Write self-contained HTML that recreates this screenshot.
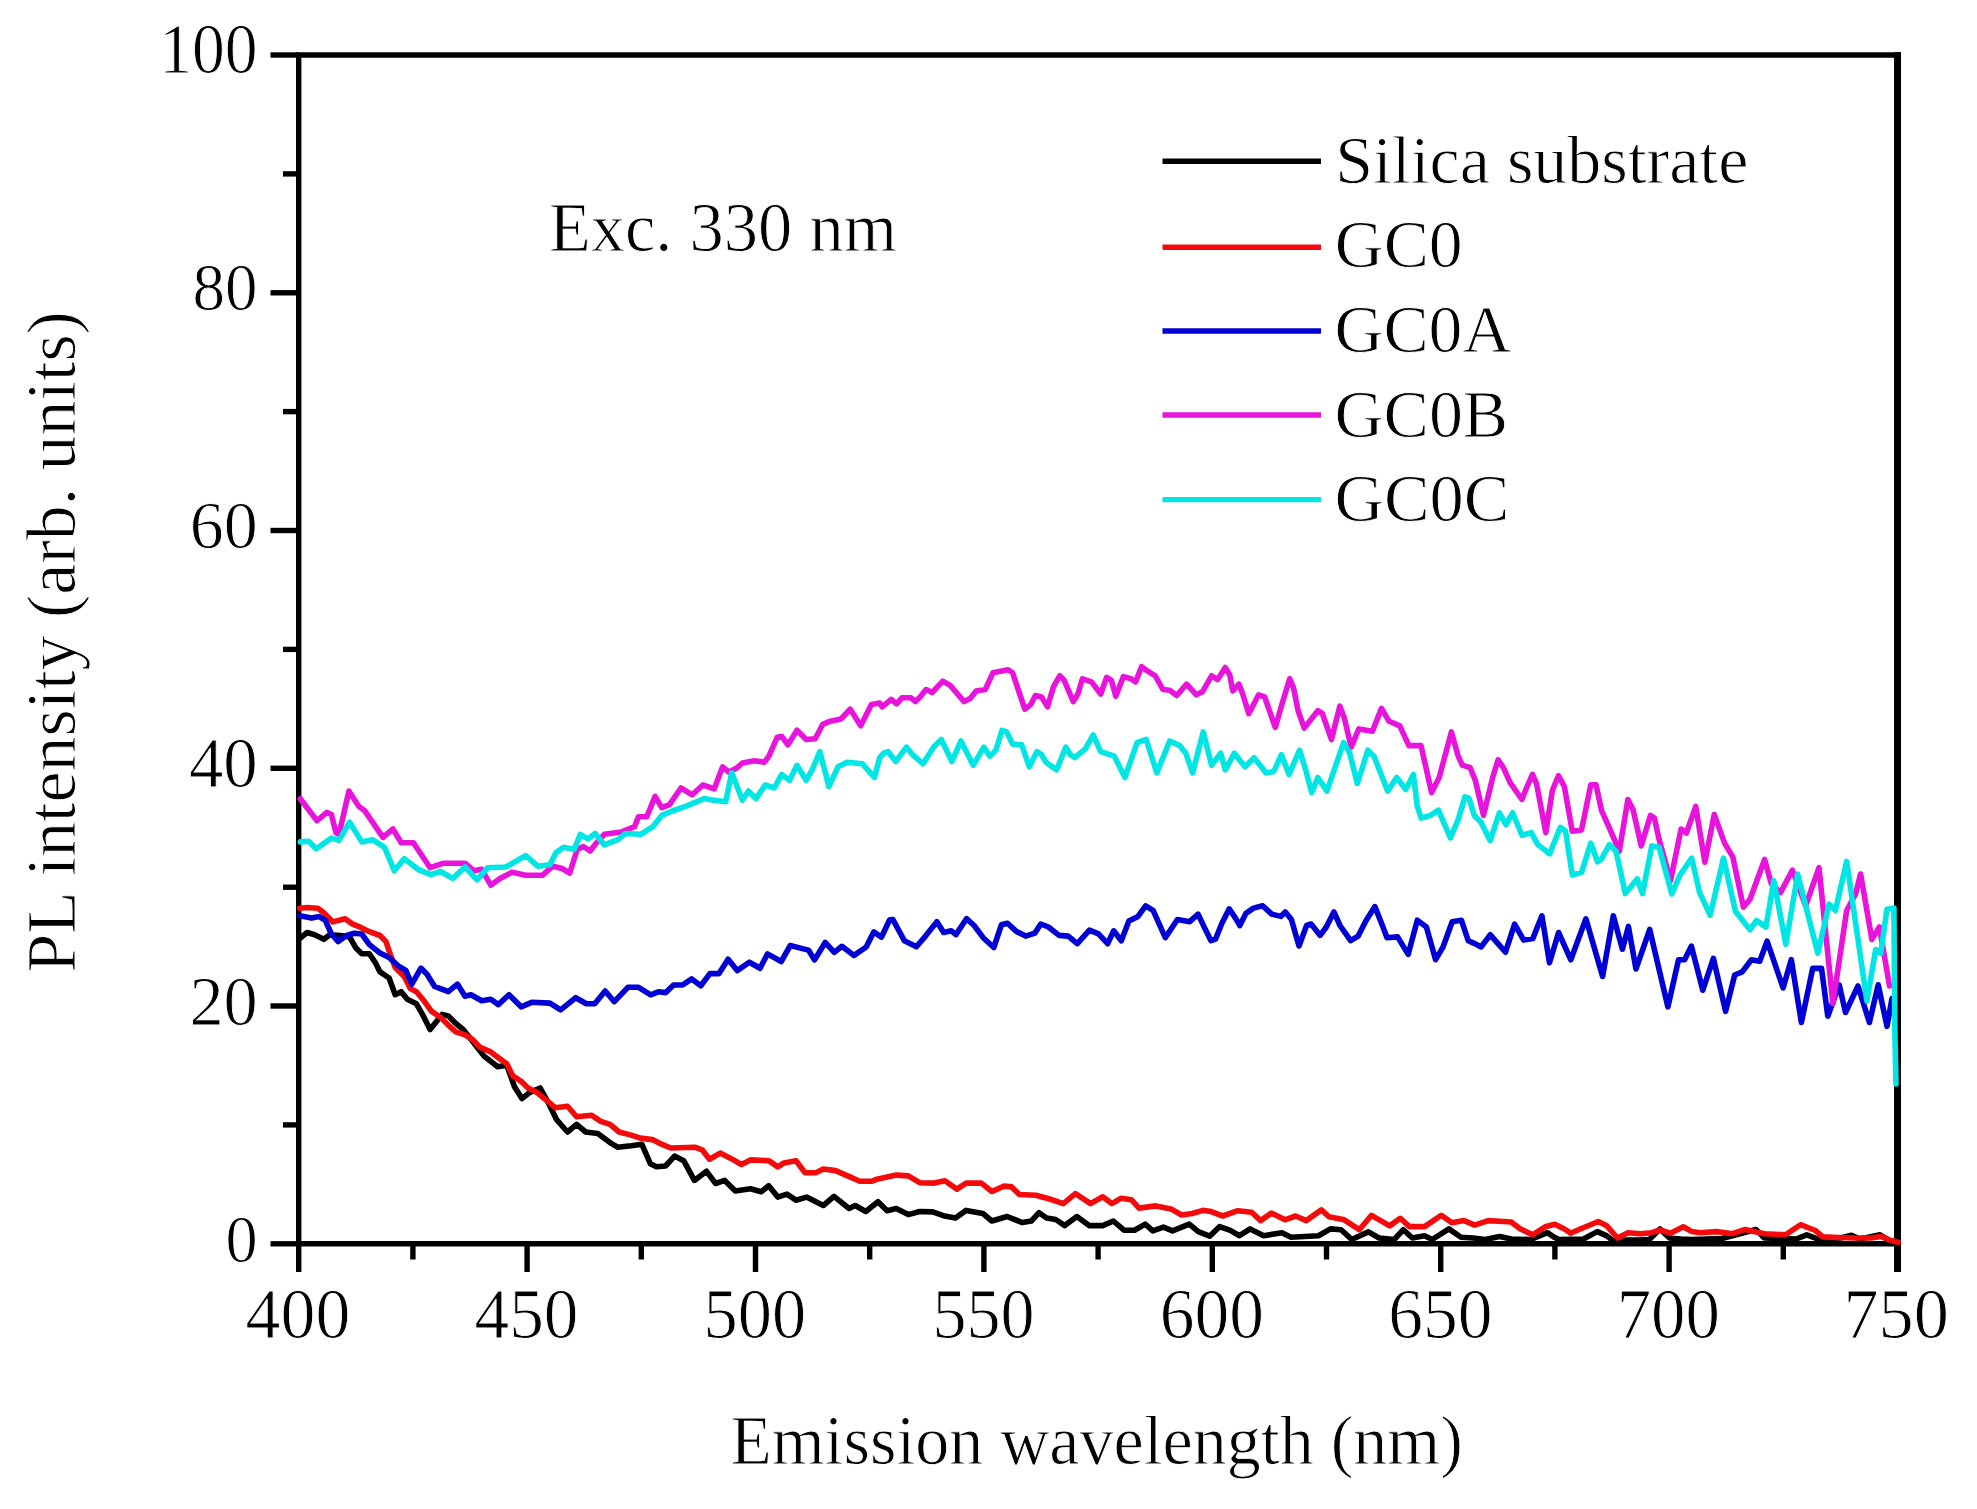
<!DOCTYPE html>
<html><head><meta charset="utf-8"><title>PL spectra</title>
<style>html,body{margin:0;padding:0;background:#fff;}svg{display:block;}</style></head>
<body><svg width="1977" height="1509" viewBox="0 0 1977 1509">
<rect width="1977" height="1509" fill="#fff"/>
<g stroke="#000" stroke-width="5.4" fill="none" stroke-linecap="butt">
<path d="M1897.5,1243.8 H298.7 V55.0 H1901.0" stroke-linejoin="miter"/>
<path d="M1897.5,52.2 V1272.0" stroke-width="7"/>
<path d="M270.5,1243.8 H298.7"/>
<path d="M283.0,1124.9 H298.7"/>
<path d="M270.5,1006.0 H298.7"/>
<path d="M283.0,887.2 H298.7"/>
<path d="M270.5,768.3 H298.7"/>
<path d="M283.0,649.4 H298.7"/>
<path d="M270.5,530.5 H298.7"/>
<path d="M283.0,411.6 H298.7"/>
<path d="M270.5,292.8 H298.7"/>
<path d="M283.0,173.9 H298.7"/>
<path d="M270.5,55.0 H298.7"/>
<path d="M298.7,1243.8 V1272.0"/>
<path d="M412.9,1243.8 V1259.5"/>
<path d="M527.1,1243.8 V1272.0"/>
<path d="M641.3,1243.8 V1259.5"/>
<path d="M755.5,1243.8 V1272.0"/>
<path d="M869.7,1243.8 V1259.5"/>
<path d="M983.9,1243.8 V1272.0"/>
<path d="M1098.1,1243.8 V1259.5"/>
<path d="M1212.3,1243.8 V1272.0"/>
<path d="M1326.5,1243.8 V1259.5"/>
<path d="M1440.7,1243.8 V1272.0"/>
<path d="M1554.9,1243.8 V1259.5"/>
<path d="M1669.1,1243.8 V1272.0"/>
<path d="M1783.3,1243.8 V1259.5"/>
</g>
<path d="M299.6,938.6 L307.1,932.5 L314.7,934.8 L323.8,939.3 L329.9,934.8 L340.5,935.5 L349.6,937.0 L355.7,947.7 L361.8,953.7 L369.4,953.7 L375.4,962.8 L380.0,971.9 L389.1,978.0 L395.2,994.7 L401.2,991.7 L407.3,999.3 L416.4,1003.8 L422.5,1014.4 L430.1,1029.6 L436.1,1022.0 L442.2,1014.4 L448.3,1015.9 L455.8,1023.5 L463.4,1029.6 L484.0,1056.1 L497.7,1066.8 L506.8,1065.3 L514.4,1086.5 L521.9,1098.6 L529.5,1092.6 L540.2,1088.0 L549.3,1104.7 L556.8,1119.9 L567.5,1132.0 L576.6,1124.4 L585.7,1132.0 L597.8,1133.5 L610.0,1142.6 L617.5,1147.2 L631.2,1145.7 L641.8,1144.2 L650.3,1163.7 L656.4,1166.8 L665.5,1166.0 L674.6,1156.1 L683.7,1160.7 L694.4,1180.4 L706.5,1171.3 L715.6,1183.5 L724.7,1180.4 L735.3,1191.0 L750.5,1188.8 L761.1,1191.8 L768.7,1185.7 L777.8,1197.1 L786.9,1194.1 L796.0,1200.2 L806.6,1197.1 L823.3,1205.5 L834.0,1196.4 L849.1,1208.5 L855.2,1205.5 L865.8,1211.5 L878.0,1201.7 L887.1,1210.8 L896.2,1208.5 L908.3,1214.6 L919.7,1211.5 L932.8,1211.9 L943.4,1215.7 L955.5,1218.0 L966.1,1210.4 L982.8,1213.5 L991.9,1221.0 L1007.1,1216.5 L1022.3,1222.6 L1031.4,1221.0 L1039.0,1212.7 L1046.6,1218.0 L1055.7,1219.5 L1064.8,1225.6 L1076.9,1216.5 L1089.1,1225.6 L1102.7,1225.6 L1113.3,1221.0 L1124.0,1230.2 L1134.6,1230.2 L1145.2,1224.1 L1152.8,1230.9 L1163.4,1227.1 L1172.5,1230.9 L1189.2,1224.1 L1198.3,1231.7 L1209.7,1236.2 L1219.7,1226.6 L1230.3,1230.4 L1239.5,1235.7 L1250.1,1228.9 L1263.7,1235.7 L1281.9,1232.7 L1291.0,1237.3 L1318.4,1235.7 L1330.5,1228.9 L1341.1,1229.7 L1351.7,1239.5 L1368.4,1231.9 L1379.1,1238.0 L1394.2,1239.5 L1403.3,1229.7 L1412.4,1238.0 L1424.6,1235.7 L1432.2,1239.5 L1448.9,1228.9 L1461.0,1237.3 L1473.1,1238.0 L1485.3,1239.5 L1499.7,1236.5 L1511.2,1239.0 L1530.4,1239.6 L1547.4,1232.7 L1553.7,1236.9 L1559.0,1239.6 L1583.5,1239.0 L1597.3,1231.6 L1606.8,1235.9 L1612.2,1240.1 L1638.7,1240.1 L1649.3,1239.6 L1660.0,1229.0 L1669.5,1238.0 L1681.2,1239.0 L1691.8,1239.6 L1721.9,1238.5 L1755.9,1229.5 L1764.4,1238.0 L1796.2,1239.0 L1806.8,1234.8 L1817.5,1239.0 L1840.8,1238.0 L1851.5,1235.3 L1860.0,1239.0 L1880.1,1234.8 L1891.8,1242.2" fill="none" stroke="#000000" stroke-width="5.6" stroke-linejoin="round" stroke-linecap="round"/>
<path d="M299.6,908.2 L307.1,907.5 L317.8,908.2 L323.8,912.8 L332.9,921.9 L345.1,918.8 L352.7,924.1 L360.3,927.2 L369.4,931.7 L380.0,935.5 L386.0,941.6 L390.6,955.3 L395.2,967.4 L404.3,976.5 L410.3,988.6 L416.4,991.7 L424.0,1000.8 L431.6,1011.4 L440.7,1017.5 L448.3,1025.1 L455.8,1031.9 L465.0,1034.9 L472.5,1039.5 L479.5,1047.0 L490.1,1051.6 L496.1,1056.1 L506.8,1063.7 L512.8,1075.9 L521.9,1081.9 L528.0,1088.0 L537.1,1092.6 L546.2,1100.2 L555.3,1107.7 L567.5,1106.2 L576.6,1116.8 L591.7,1115.3 L600.8,1121.4 L610.0,1124.4 L619.1,1132.0 L631.2,1135.1 L640.3,1138.1 L652.4,1139.6 L661.5,1144.2 L670.7,1148.0 L694.9,1147.2 L702.5,1150.2 L709.5,1159.2 L720.2,1153.1 L730.8,1158.4 L741.4,1164.5 L750.5,1159.9 L768.7,1160.7 L777.8,1166.8 L783.9,1163.0 L796.0,1160.7 L805.1,1172.8 L815.8,1172.8 L823.3,1169.0 L835.5,1170.6 L847.6,1175.9 L859.8,1181.2 L871.9,1181.2 L878.0,1178.9 L896.2,1175.1 L908.3,1175.9 L919.7,1182.7 L934.3,1183.1 L944.9,1180.8 L957.0,1189.2 L966.1,1183.1 L981.3,1183.1 L991.9,1191.5 L1004.1,1186.1 L1011.7,1186.9 L1019.3,1194.5 L1035.9,1195.3 L1049.6,1199.0 L1063.3,1203.6 L1075.4,1193.7 L1090.6,1203.6 L1102.7,1196.8 L1111.8,1203.6 L1120.9,1198.3 L1131.5,1199.8 L1139.1,1208.1 L1155.8,1205.9 L1171.0,1208.9 L1181.6,1215.0 L1192.2,1213.5 L1202.9,1210.4 L1209.7,1211.2 L1222.8,1216.0 L1237.9,1210.7 L1251.6,1212.2 L1260.7,1220.6 L1271.3,1213.0 L1285.0,1219.8 L1295.6,1216.0 L1306.2,1220.6 L1321.4,1209.9 L1329.0,1216.8 L1344.2,1219.8 L1359.3,1229.7 L1371.5,1215.3 L1389.7,1225.9 L1400.3,1218.3 L1409.4,1226.6 L1424.6,1226.6 L1441.3,1215.3 L1451.9,1222.8 L1464.0,1220.6 L1474.7,1225.1 L1488.3,1220.6 L1499.7,1221.3 L1511.2,1222.0 L1519.7,1228.4 L1532.5,1234.8 L1545.2,1226.8 L1554.8,1224.2 L1564.4,1229.0 L1570.7,1233.2 L1580.3,1229.0 L1598.3,1221.5 L1606.8,1225.8 L1617.5,1238.0 L1628.1,1232.7 L1640.8,1233.7 L1651.5,1232.7 L1660.0,1230.0 L1670.6,1233.2 L1683.3,1226.8 L1691.8,1231.6 L1699.8,1232.7 L1716.6,1231.6 L1732.5,1233.7 L1745.2,1229.5 L1764.4,1233.7 L1785.6,1234.8 L1800.5,1224.7 L1815.3,1230.5 L1822.8,1236.9 L1838.7,1237.5 L1854.6,1238.0 L1870.6,1238.0 L1881.2,1236.4 L1889.7,1240.1 L1898.2,1242.2" fill="none" stroke="#f40a0a" stroke-width="5.6" stroke-linejoin="round" stroke-linecap="round"/>
<path d="M299.6,915.8 L311.7,918.1 L319.3,916.6 L325.3,920.3 L331.4,934.0 L338.2,941.6 L346.6,935.5 L354.2,933.2 L361.8,934.0 L369.4,944.6 L380.0,953.0 L389.1,957.5 L398.2,965.9 L405.8,970.4 L411.8,984.1 L420.9,968.1 L427.0,974.2 L434.6,986.4 L448.3,991.7 L457.4,984.1 L465.0,996.2 L471.0,994.7 L481.6,1000.8 L490.8,999.3 L498.3,1004.6 L509.0,994.7 L521.1,1006.8 L531.7,1002.3 L549.9,1003.1 L560.6,1009.9 L575.7,997.7 L586.4,1003.8 L594.7,1003.8 L605.2,991.0 L614.3,1001.7 L627.9,987.3 L638.6,987.3 L650.7,994.8 L658.3,991.8 L665.9,992.6 L673.5,985.0 L682.6,985.0 L691.7,978.9 L700.8,985.7 L709.9,973.6 L719.0,973.6 L728.1,959.2 L737.2,970.6 L749.3,962.2 L760.0,968.3 L767.5,953.9 L781.2,961.5 L790.3,945.5 L802.4,948.6 L808.5,950.1 L814.6,959.9 L825.2,942.5 L834.3,952.4 L841.9,946.3 L854.0,955.4 L866.2,947.0 L873.8,931.9 L881.4,937.2 L889.7,919.7 L892.9,919.5 L904.3,940.7 L916.4,946.8 L925.5,936.1 L936.9,921.7 L943.7,932.4 L951.3,930.8 L955.9,934.6 L966.5,918.7 L974.1,925.5 L983.2,937.7 L993.8,947.5 L1001.4,924.8 L1007.5,923.2 L1016.6,931.6 L1025.7,936.1 L1034.8,933.1 L1040.8,924.0 L1048.4,927.0 L1059.1,935.4 L1068.2,936.1 L1077.3,943.7 L1089.4,930.1 L1098.5,933.9 L1107.6,943.7 L1113.7,930.8 L1121.3,940.7 L1128.9,921.0 L1138.0,916.4 L1145.6,905.8 L1153.1,910.3 L1165.3,937.7 L1177.4,919.5 L1189.7,921.7 L1198.1,914.1 L1204.9,928.6 L1211.0,940.7 L1215.5,939.2 L1221.6,924.0 L1229.2,908.8 L1235.3,917.9 L1239.8,925.5 L1245.9,913.4 L1253.5,908.1 L1262.6,905.8 L1271.7,914.1 L1280.8,916.4 L1285.3,911.9 L1291.4,919.5 L1299.0,946.0 L1306.6,925.5 L1311.1,924.0 L1320.2,935.4 L1326.3,927.0 L1333.9,911.9 L1340.0,925.5 L1350.6,940.7 L1358.2,936.1 L1365.8,921.0 L1374.9,906.6 L1382.4,925.5 L1387.0,937.7 L1397.6,936.9 L1408.2,954.4 L1417.3,920.2 L1426.4,927.0 L1435.6,959.7 L1443.1,946.8 L1452.2,921.7 L1461.4,920.2 L1468.2,940.7 L1473.7,943.1 L1481.2,946.9 L1490.3,934.8 L1505.5,952.2 L1514.6,924.1 L1523.7,940.1 L1532.8,938.6 L1541.9,915.8 L1549.5,962.8 L1558.6,932.5 L1570.8,959.8 L1585.9,918.8 L1602.6,976.5 L1613.3,915.8 L1622.4,949.2 L1628.4,926.4 L1636.0,968.9 L1649.7,929.5 L1667.9,1006.8 L1678.5,959.8 L1684.6,959.8 L1691.4,946.1 L1702.8,990.2 L1713.4,958.3 L1725.6,1011.4 L1734.7,975.0 L1742.2,971.9 L1751.4,959.8 L1759.7,961.3 L1767.1,941.2 L1783.1,987.9 L1791.3,959.6 L1801.4,1022.5 L1812.7,968.4 L1821.5,968.4 L1827.8,1016.2 L1839.2,984.8 L1845.5,1012.5 L1858.0,986.0 L1869.4,1022.5 L1878.2,984.8 L1887.0,1026.3 L1892.0,998.6" fill="none" stroke="#0000d4" stroke-width="5.6" stroke-linejoin="round" stroke-linecap="round"/>
<path d="M300.3,798.7 L317.0,820.7 L326.9,812.4 L331.4,814.6 L336.0,832.8 L339.0,834.4 L348.9,791.1 L358.7,806.3 L364.8,810.8 L383.0,837.4 L392.9,829.0 L401.2,842.7 L413.4,842.7 L430.1,867.7 L443.7,863.2 L465.0,863.2 L474.1,870.8 L481.6,869.3 L490.8,885.2 L499.9,878.4 L512.0,872.3 L525.7,875.3 L542.3,875.3 L553.0,866.2 L562.1,868.5 L569.7,873.1 L577.2,849.5 L583.3,846.5 L590.1,851.0 L596.7,842.6 L604.3,834.3 L621.0,832.0 L634.6,826.7 L638.4,816.8 L646.8,816.8 L655.1,796.4 L661.9,807.7 L669.5,804.7 L680.9,788.0 L692.3,794.8 L702.9,785.0 L714.3,788.8 L722.6,766.8 L728.7,772.1 L736.3,768.3 L742.4,763.0 L754.5,760.7 L764.4,762.2 L768.9,756.1 L777.3,737.2 L781.8,736.4 L787.9,744.8 L797.0,730.3 L806.1,739.5 L815.2,738.7 L822.8,724.3 L830.4,721.2 L841.0,719.0 L850.1,709.1 L860.7,725.8 L871.4,704.6 L879.7,703.0 L882.1,706.9 L891.2,699.3 L896.6,703.9 L901.9,697.8 L911.0,697.8 L915.5,701.6 L920.1,697.0 L926.1,689.5 L932.2,692.5 L942.8,681.1 L950.4,685.7 L964.1,701.6 L970.2,698.6 L976.2,691.0 L985.3,689.5 L992.9,672.8 L1008.1,669.7 L1012.6,672.8 L1018.7,691.0 L1024.8,709.2 L1030.8,704.6 L1035.4,695.5 L1041.5,697.0 L1047.5,706.9 L1053.6,686.4 L1059.7,675.8 L1064.2,680.3 L1073.3,701.6 L1077.9,694.0 L1082.4,678.8 L1091.5,681.9 L1100.7,694.0 L1106.7,677.3 L1111.3,680.3 L1115.8,696.3 L1123.4,676.6 L1131.0,678.8 L1135.6,681.9 L1141.6,666.7 L1147.7,671.2 L1155.3,675.8 L1162.9,689.5 L1169.7,690.2 L1176.7,695.5 L1186.6,684.1 L1196.4,694.8 L1202.5,691.7 L1211.6,675.8 L1217.7,679.6 L1225.3,667.5 L1229.8,675.0 L1232.8,691.0 L1238.9,684.1 L1242.7,694.0 L1248.8,713.7 L1258.6,694.8 L1264.7,697.0 L1275.3,727.4 L1281.4,706.1 L1289.7,678.8 L1293.5,687.9 L1298.1,710.7 L1304.2,728.1 L1317.8,710.7 L1322.4,713.7 L1331.5,739.5 L1339.8,706.1 L1344.4,718.3 L1351.2,747.1 L1358.8,728.9 L1372.4,731.2 L1381.5,708.4 L1389.1,721.3 L1399.8,725.9 L1408.9,745.6 L1421.0,745.6 L1431.6,792.6 L1439.2,777.5 L1451.4,731.9 L1458.2,756.2 L1462.3,765.1 L1470.2,767.7 L1475.5,781.0 L1483.5,815.4 L1492.8,777.0 L1498.1,759.8 L1503.4,767.7 L1510.0,782.3 L1521.9,799.5 L1527.2,786.3 L1532.5,774.3 L1536.5,783.6 L1545.8,832.6 L1552.4,790.2 L1558.4,775.7 L1564.3,786.3 L1572.3,831.3 L1581.5,830.0 L1590.8,784.9 L1596.1,784.9 L1601.4,810.1 L1612.0,834.0 L1619.3,851.2 L1627.9,799.5 L1633.2,810.1 L1641.2,845.9 L1650.5,815.4 L1654.4,818.1 L1659.1,839.3 L1670.5,880.7 L1681.1,829.0 L1686.4,833.0 L1695.7,806.5 L1704.9,862.2 L1714.2,814.5 L1724.8,843.6 L1732.8,856.9 L1743.4,907.2 L1750.0,899.3 L1764.6,859.5 L1771.2,883.4 L1780.5,892.6 L1792.4,870.1 L1805.6,905.9 L1819.0,867.7 L1832.9,1003.6 L1846.7,910.5 L1855.5,894.1 L1860.6,874.0 L1871.9,939.4 L1879.4,926.9 L1889.5,986.0" fill="none" stroke="#e814dc" stroke-width="5.6" stroke-linejoin="round" stroke-linecap="round"/>
<path d="M300.3,841.9 L308.7,841.2 L316.2,848.8 L331.4,838.1 L339.0,840.4 L349.6,822.2 L361.8,841.9 L372.4,839.7 L384.5,847.3 L394.4,870.8 L404.3,858.6 L417.9,869.3 L430.8,874.6 L440.7,871.5 L452.8,878.4 L465.0,867.0 L477.1,879.9 L487.7,867.7 L505.9,867.0 L525.7,855.6 L537.8,866.2 L549.9,864.7 L556.0,852.6 L563.6,847.3 L574.2,849.5 L580.3,834.4 L587.9,838.9 L595.2,833.5 L604.3,844.9 L617.9,839.6 L625.5,833.5 L640.7,834.3 L652.8,826.7 L661.9,815.3 L671.0,811.5 L686.2,806.2 L704.4,798.6 L713.5,800.2 L725.7,801.7 L731.7,772.8 L742.4,800.2 L748.4,791.0 L756.0,798.6 L765.1,785.0 L774.2,788.0 L781.8,774.4 L789.4,780.4 L797.0,765.3 L806.1,780.4 L812.2,769.8 L819.8,751.6 L828.9,786.5 L838.0,766.8 L847.1,762.2 L862.2,763.7 L874.4,777.4 L879.7,757.7 L883.7,753.2 L888.2,751.7 L895.8,761.5 L906.4,747.1 L912.5,754.7 L923.1,763.8 L933.7,747.1 L941.3,739.5 L951.9,761.5 L961.0,741.0 L973.2,765.3 L983.8,747.1 L989.9,756.2 L995.9,750.2 L1002.0,730.4 L1006.6,731.9 L1012.6,744.1 L1021.7,744.8 L1029.3,766.8 L1036.9,751.7 L1041.5,754.7 L1046.0,762.3 L1056.6,769.9 L1065.8,747.1 L1070.3,754.7 L1074.9,757.7 L1085.5,748.6 L1093.1,735.0 L1100.7,751.7 L1114.3,756.2 L1124.9,777.5 L1137.1,742.6 L1146.2,739.5 L1156.8,772.9 L1169.7,741.0 L1179.7,745.6 L1185.8,753.2 L1192.6,772.9 L1203.2,731.9 L1211.6,765.3 L1220.7,753.2 L1225.3,769.9 L1234.4,753.2 L1245.0,766.8 L1254.1,757.7 L1266.2,772.9 L1273.8,771.4 L1281.4,754.7 L1289.0,774.4 L1299.6,750.2 L1305.7,769.9 L1311.7,792.6 L1317.8,777.5 L1326.9,791.1 L1343.6,742.6 L1349.7,753.2 L1357.3,783.5 L1367.9,750.2 L1374.0,756.2 L1387.6,791.1 L1396.7,777.5 L1405.8,789.6 L1413.4,774.4 L1417.2,806.1 L1421.2,818.1 L1430.5,815.4 L1438.4,810.1 L1450.4,837.9 L1458.3,819.4 L1464.9,796.9 L1468.9,798.2 L1474.2,815.4 L1480.8,822.0 L1490.1,840.6 L1499.4,812.8 L1506.0,824.7 L1512.6,812.8 L1521.9,835.3 L1531.2,832.6 L1537.8,844.6 L1549.7,853.8 L1560.3,827.3 L1565.6,831.3 L1572.3,875.0 L1581.5,872.4 L1590.8,843.2 L1597.5,861.8 L1601.4,859.1 L1609.4,844.6 L1616.0,851.2 L1625.3,893.6 L1637.2,879.0 L1642.5,893.6 L1651.8,845.9 L1659.1,847.2 L1671.8,894.0 L1679.8,875.4 L1691.7,858.2 L1699.6,892.6 L1710.2,915.2 L1723.5,858.2 L1735.4,911.2 L1750.0,929.7 L1756.6,920.5 L1765.9,927.1 L1773.8,880.7 L1785.8,944.3 L1797.7,874.1 L1817.8,953.3 L1829.1,904.2 L1835.4,910.5 L1846.7,861.4 L1866.9,1001.1 L1875.7,949.5 L1880.7,953.3 L1887.0,909.2 L1893.9,908.0 L1894.8,1030.0 L1896.0,1084.0" fill="none" stroke="#00e6e4" stroke-width="5.6" stroke-linejoin="round" stroke-linecap="round"/>
<g font-family="Liberation Serif, Times New Roman, serif" fill="#000" stroke="#fff" stroke-width="0.9">
<text x="159.3" y="72.9" font-size="71.26" textLength="98.3" lengthAdjust="spacingAndGlyphs">100</text>
<text x="192.6" y="310.3" font-size="67.85" textLength="65.0" lengthAdjust="spacingAndGlyphs">80</text>
<text x="189.7" y="547.9" font-size="68.44" textLength="68.0" lengthAdjust="spacingAndGlyphs">60</text>
<text x="188.9" y="786.5" font-size="70.96" textLength="68.8" lengthAdjust="spacingAndGlyphs">40</text>
<text x="189.4" y="1025.0" font-size="68.74" textLength="68.3" lengthAdjust="spacingAndGlyphs">20</text>
<text x="225.4" y="1262.3" font-size="68.15" textLength="32.1" lengthAdjust="spacingAndGlyphs">0</text>
<text x="245.6" y="1337.9" font-size="71.56" textLength="104.7" lengthAdjust="spacingAndGlyphs">400</text>
<text x="474.6" y="1337.9" font-size="71.56" textLength="103.9" lengthAdjust="spacingAndGlyphs">450</text>
<text x="703.6" y="1337.9" font-size="71.56" textLength="102.5" lengthAdjust="spacingAndGlyphs">500</text>
<text x="932.5" y="1337.9" font-size="71.56" textLength="102.1" lengthAdjust="spacingAndGlyphs">550</text>
<text x="1159.7" y="1337.9" font-size="71.56" textLength="104.2" lengthAdjust="spacingAndGlyphs">600</text>
<text x="1388.2" y="1337.9" font-size="71.56" textLength="104.3" lengthAdjust="spacingAndGlyphs">650</text>
<text x="1616.7" y="1337.9" font-size="71.56" textLength="103.2" lengthAdjust="spacingAndGlyphs">700</text>
<text x="1843.4" y="1337.9" font-size="71.56" textLength="105.4" lengthAdjust="spacingAndGlyphs">750</text>
<text x="730.2" y="1464.4" font-size="70.53" textLength="732.6" lengthAdjust="spacingAndGlyphs">Emission wavelength (nm)</text>
<g transform="translate(75.0,970.7) rotate(-90)"><text x="-2.1" y="0.0" font-size="70.23" textLength="661.7" lengthAdjust="spacingAndGlyphs">PL intensity (arb. units)</text></g>
<text x="548.9" y="250.9" font-size="69.47" textLength="348.0" lengthAdjust="spacingAndGlyphs">Exc. 330 nm</text>
<text x="1335.2" y="182.8" font-size="68.00" textLength="413.2" lengthAdjust="spacingAndGlyphs">Silica substrate</text>
<text x="1334.8" y="267.4" font-size="68.00" textLength="127.9" lengthAdjust="spacingAndGlyphs">GC0</text>
<text x="1334.5" y="352.0" font-size="68.00" textLength="176.9" lengthAdjust="spacingAndGlyphs">GC0A</text>
<text x="1334.5" y="436.6" font-size="68.00" textLength="173.7" lengthAdjust="spacingAndGlyphs">GC0B</text>
<text x="1334.5" y="521.2" font-size="68.00" textLength="174.9" lengthAdjust="spacingAndGlyphs">GC0C</text>
</g>
<path d="M1162.5,161.3 H1321" stroke="#000000" stroke-width="5.4" fill="none"/>
<path d="M1162.5,247.2 H1321" stroke="#f40a0a" stroke-width="5.4" fill="none"/>
<path d="M1162.5,331.0 H1321" stroke="#0000d4" stroke-width="5.4" fill="none"/>
<path d="M1162.5,415.0 H1321" stroke="#e814dc" stroke-width="5.4" fill="none"/>
<path d="M1162.5,499.6 H1321" stroke="#00e6e4" stroke-width="5.4" fill="none"/>
</svg></body></html>
